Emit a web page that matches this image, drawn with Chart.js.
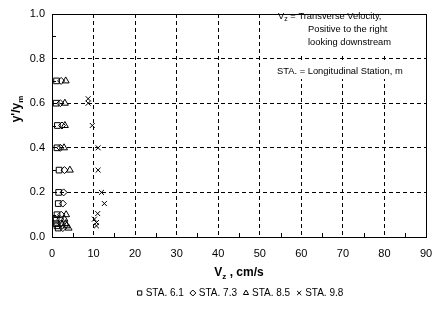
<!DOCTYPE html>
<html>
<head>
<meta charset="utf-8">
<script src="https://cdn.jsdelivr.net/npm/chart.js@4/dist/chart.umd.min.js"></script>
<style>
  html, body { margin: 0; padding: 0; background: #fff; }
  #wrap { width: 444px; height: 318px; }
</style>
</head>
<body>
<div id="wrap"><canvas id="chart" width="444" height="318"></canvas></div>
<script>
// values (x = Vz in cm/s, y = y'/ym)
const seriesNames = ['STA. 6.1', 'STA. 7.3', 'STA. 8.5', 'STA. 9.8'];
const sta61 = [[1.1,0.7],[1.0,0.6],[1.3,0.5],[1.2,0.4],[1.7,0.3],[1.6,0.2],[1.5,0.15],[1.2,0.1],[1.0,0.08],[1.0,0.06],[1.2,0.05],[1.5,0.04]];
const sta73 = [[2.2,0.7],[2.0,0.6],[2.4,0.5],[2.0,0.4],[3.0,0.3],[2.8,0.2],[2.6,0.15],[2.2,0.1],[2.0,0.08],[2.2,0.06],[2.4,0.05],[2.6,0.04]];
const sta85 = [[3.3,0.7],[3.1,0.6],[3.1,0.5],[2.9,0.4],[4.3,0.3],[3.4,0.1],[3.0,0.08],[3.3,0.06],[3.5,0.05],[4.0,0.04]];
const sta98 = [[8.7,0.62],[8.7,0.6],[9.7,0.5],[11.1,0.4],[11.1,0.3],[11.9,0.2],[12.6,0.15],[11.0,0.105],[10.2,0.08],[10.7,0.065],[10.7,0.05]];
const xTicks = [0, 10, 20, 30, 40, 50, 60, 70, 80, 90];
const yTicks = [0.0, 0.2, 0.4, 0.6, 0.8, 1.0];

const FONT = '"Liberation Sans", Arial, sans-serif';
const styles = ['rect', 'rectRot', 'triangle', 'crossRot'];
const radii = [4, 3.5, 4, 3.5];

function toPts(arr) { return arr.map(p => ({ x: p[0], y: p[1] })); }
const allSeries = [sta61, sta73, sta85, sta98];

const datasets = allSeries.map((s, i) => ({
    label: seriesNames[i],
    data: toPts(s),
    pointStyle: styles[i],
    pointRadius: radii[i],
    pointBorderColor: '#000',
    pointBackgroundColor: 'rgba(0,0,0,0)',
    pointBorderWidth: 1,
    showLine: false
}));

const overlay = {
    id: 'overlay',
    afterDraw(chart) {
        const ctx = chart.ctx;
        const a = chart.chartArea;
        const xs = chart.scales.x, ys = chart.scales.y;
        ctx.save();

        // white boxes behind the notes
        ctx.fillStyle = '#fff';
        ctx.fillRect(268, a.top + 1, a.right - 269, 40);
        ctx.fillRect(272, 63, 136, 16);

        ctx.fillStyle = '#000';
        ctx.textBaseline = 'middle';
        ctx.textAlign = 'left';
        // size the note font so the station line is ~126px wide, as in the picture
        const staText = 'STA. = Longitudinal Station, m';
        ctx.font = '10px ' + FONT;
        const fs = Math.min(12, 10 * 126 / ctx.measureText(staText).width);
        const noteFont = fs.toFixed(2) + 'px ' + FONT;
        ctx.font = noteFont;
        ctx.fillText('V', 278, 16);
        let w = ctx.measureText('V').width;
        ctx.font = '7px ' + FONT;
        ctx.fillText('z', 278 + w, 19);
        let w2 = ctx.measureText('z').width;
        ctx.font = noteFont;
        ctx.fillText(' = Transverse Velocity,', 278 + w + w2, 16);
        ctx.fillText('Positive to the right', 308, 29);
        ctx.fillText('looking downstream', 308, 42);
        ctx.fillText(staText, 277, 71);

        // inward minor ticks
        ctx.strokeStyle = '#000';
        ctx.lineWidth = 1;
        ctx.beginPath();
        for (let v = 5; v < 90; v += 10) {
            const px = Math.round(xs.getPixelForValue(v)) + 0.5;
            ctx.moveTo(px, a.bottom); ctx.lineTo(px, a.bottom - 4);
        }
        for (let v = 0.1; v < 1; v += 0.2) {
            const py = Math.round(ys.getPixelForValue(v)) + 0.5;
            ctx.moveTo(a.left, py); ctx.lineTo(a.left + 4, py);
        }
        ctx.stroke();

        // plot frame
        ctx.strokeRect(Math.round(a.left) + 0.5, Math.round(a.top) + 0.5,
            Math.round(a.right - a.left), Math.round(a.bottom - a.top));

        // x axis title with subscript
        const cx = (a.left + a.right) / 2;
        ctx.font = 'bold 12px ' + FONT;
        const p1 = 'V', p3 = ' , cm/s';
        const w1 = ctx.measureText(p1).width, w3 = ctx.measureText(p3).width;
        ctx.font = 'bold 8px ' + FONT;
        const ws = ctx.measureText('z').width;
        let sx = cx - (w1 + ws + w3) / 2;
        ctx.font = 'bold 12px ' + FONT;
        ctx.fillText(p1, sx, 273);
        ctx.font = 'bold 8px ' + FONT;
        ctx.fillText('z', sx + w1, 277);
        ctx.font = 'bold 12px ' + FONT;
        ctx.fillText(p3, sx + w1 + ws, 273);

        // y axis title
        ctx.save();
        ctx.translate(17, 109);
        ctx.rotate(-Math.PI / 2);
        ctx.font = 'bold 12px ' + FONT;
        const q1 = "y'/y";
        const qw = ctx.measureText(q1).width;
        ctx.font = 'bold 8px ' + FONT;
        const qs = ctx.measureText('m').width;
        let qx = -(qw + qs) / 2;
        ctx.font = 'bold 12px ' + FONT;
        ctx.fillText(q1, qx, 0);
        ctx.font = 'bold 8px ' + FONT;
        ctx.fillText('m', qx + qw, 4);
        ctx.restore();

        // legend
        ctx.font = '10px ' + FONT;
        const gap = 6, mark = 9;
        const widths = seriesNames.map(n => mark + ctx.measureText(n).width);
        const total = widths.reduce((s, v) => s + v, 0) + gap * (widths.length - 1);
        let lx = 240 - total / 2;
        const ly = 293;
        chart.data.datasets.forEach((ds, i) => {
            ctx.strokeStyle = '#000';
            ctx.fillStyle = 'rgba(0,0,0,0)';
            ctx.lineWidth = 1;
            Chart.helpers.drawPoint(ctx, { pointStyle: ds.pointStyle, radius: 3, borderWidth: 1 }, lx + 3, ly);
            ctx.fillStyle = '#000';
            ctx.fillText(seriesNames[i], lx + mark, ly);
            lx += widths[i] + gap;
        });

        ctx.restore();
    }
};

new Chart(document.getElementById('chart'), {
    type: 'scatter',
    data: { datasets },
    plugins: [overlay],
    options: {
        responsive: false,
        animation: false,
        layout: { padding: { left: 0, top: 14, right: 18, bottom: 0 } },
        plugins: { legend: { display: false }, tooltip: { enabled: false } },
        scales: {
            x: {
                type: 'linear', min: 0, max: 90,
                afterFit: s => { s.height = 81; },
                afterBuildTicks: s => { s.ticks = xTicks.map(v => ({ value: v })); },
                ticks: { color: '#000', font: { family: FONT, size: 11 }, padding: 10, maxRotation: 0 },
                grid: {
                    drawTicks: false,
                    color: c => (c.tick && c.tick.value > 0 && c.tick.value < 90) ? '#000' : 'rgba(0,0,0,0)',
                    lineWidth: 1
                },
                border: { display: true, color: '#000', width: 1, dash: [4, 3] }
            },
            y: {
                type: 'linear', min: 0, max: 1,
                afterFit: s => { s.width = 52; },
                afterBuildTicks: s => { s.ticks = yTicks.map(v => ({ value: v })); },
                ticks: {
                    color: '#000', font: { family: FONT, size: 11 }, padding: 7,
                    callback: v => Number(v).toFixed(1)
                },
                grid: {
                    drawTicks: false,
                    color: c => (c.tick && c.tick.value > 0.01 && c.tick.value < 0.99) ? '#000' : 'rgba(0,0,0,0)',
                    lineWidth: 1
                },
                border: { display: true, color: '#000', width: 1, dash: [4, 3] }
            }
        }
    }
});
</script>
</body>
</html>
